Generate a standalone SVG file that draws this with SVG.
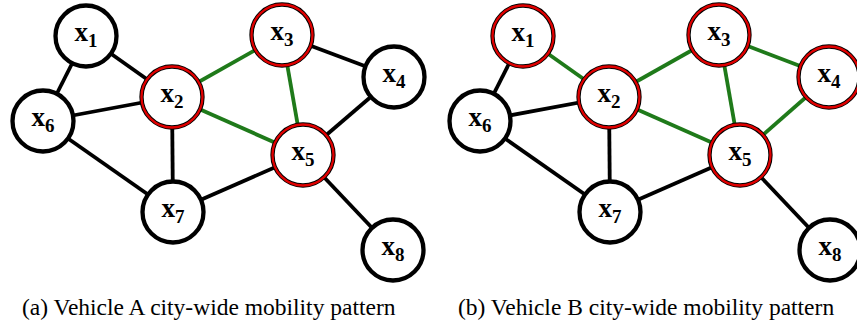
<svg xmlns="http://www.w3.org/2000/svg" width="857" height="329" viewBox="0 0 857 329">
<style>
.n{fill:#fff;stroke:#000;stroke-width:4.3}
.r{fill:none;stroke:#e00000;stroke-width:2.3}
.e{stroke:#000;stroke-width:3.8;fill:none}
.g{stroke:#1f7a1a;stroke-width:3.8;fill:none}
.l{font-family:"Liberation Serif",serif;font-weight:bold;font-size:27px;text-anchor:middle}
.s{font-size:19px}
.c{font-family:"Liberation Serif",serif;font-size:23.5px}
</style>
<rect width="857" height="329" fill="#fff"/>
<g id="panel-a">
<g id="a-edges">
<line class="e" x1="86" y1="36" x2="43" y2="121"/>
<line class="e" x1="86" y1="36" x2="172" y2="97"/>
<line class="e" x1="43" y1="121" x2="172" y2="97"/>
<line class="e" x1="43" y1="121" x2="173" y2="212"/>
<line class="e" x1="172" y1="97" x2="173" y2="212"/>
<line class="e" x1="173" y1="212" x2="303" y2="155"/>
<line class="e" x1="282" y1="35" x2="394" y2="77"/>
<line class="e" x1="394" y1="77" x2="303" y2="155"/>
<line class="e" x1="303" y1="155" x2="393" y2="250"/>
<line class="g" x1="172" y1="97" x2="282" y2="35"/>
<line class="g" x1="172" y1="97" x2="303" y2="155"/>
<line class="g" x1="282" y1="35" x2="303" y2="155"/>
</g>
<g id="a-x1"><circle class="n" cx="86" cy="36" r="30.5"/><text class="l" x="86" y="41">x<tspan class="s" dy="6">1</tspan></text></g>
<g id="a-x2"><circle class="n" cx="172" cy="97" r="30.5"/><circle class="r" cx="172" cy="97" r="30.5"/><text class="l" x="172" y="102">x<tspan class="s" dy="6">2</tspan></text></g>
<g id="a-x3"><circle class="n" cx="282" cy="35" r="30.5"/><circle class="r" cx="282" cy="35" r="30.5"/><text class="l" x="282" y="40">x<tspan class="s" dy="6">3</tspan></text></g>
<g id="a-x4"><circle class="n" cx="394" cy="77" r="30.5"/><text class="l" x="394" y="82">x<tspan class="s" dy="6">4</tspan></text></g>
<g id="a-x5"><circle class="n" cx="303" cy="155" r="30.5"/><circle class="r" cx="303" cy="155" r="30.5"/><text class="l" x="303" y="160">x<tspan class="s" dy="6">5</tspan></text></g>
<g id="a-x6"><circle class="n" cx="43" cy="121" r="30.5"/><text class="l" x="43" y="126">x<tspan class="s" dy="6">6</tspan></text></g>
<g id="a-x7"><circle class="n" cx="173" cy="212" r="30.5"/><text class="l" x="173" y="217">x<tspan class="s" dy="6">7</tspan></text></g>
<g id="a-x8"><circle class="n" cx="393" cy="250" r="30.5"/><text class="l" x="393" y="255">x<tspan class="s" dy="6">8</tspan></text></g>
</g>
<g id="panel-b" transform="translate(437,0)">
<g id="b-edges">
<line class="e" x1="86" y1="36" x2="43" y2="121"/>
<line class="e" x1="43" y1="121" x2="172" y2="97"/>
<line class="e" x1="43" y1="121" x2="173" y2="212"/>
<line class="e" x1="172" y1="97" x2="173" y2="212"/>
<line class="e" x1="173" y1="212" x2="303" y2="155"/>
<line class="e" x1="303" y1="155" x2="393" y2="250"/>
<line class="g" x1="86" y1="36" x2="172" y2="97"/>
<line class="g" x1="172" y1="97" x2="282" y2="35"/>
<line class="g" x1="172" y1="97" x2="303" y2="155"/>
<line class="g" x1="282" y1="35" x2="303" y2="155"/>
<line class="g" x1="282" y1="35" x2="392" y2="77"/>
<line class="g" x1="392" y1="77" x2="303" y2="155"/>
</g>
<g id="b-x1"><circle class="n" cx="86" cy="36" r="30.5"/><circle class="r" cx="86" cy="36" r="30.5"/><text class="l" x="86" y="41">x<tspan class="s" dy="6">1</tspan></text></g>
<g id="b-x2"><circle class="n" cx="172" cy="97" r="30.5"/><circle class="r" cx="172" cy="97" r="30.5"/><text class="l" x="172" y="102">x<tspan class="s" dy="6">2</tspan></text></g>
<g id="b-x3"><circle class="n" cx="282" cy="35" r="30.5"/><circle class="r" cx="282" cy="35" r="30.5"/><text class="l" x="282" y="40">x<tspan class="s" dy="6">3</tspan></text></g>
<g id="b-x4"><circle class="n" cx="392" cy="77" r="30.5"/><circle class="r" cx="392" cy="77" r="30.5"/><text class="l" x="392" y="82">x<tspan class="s" dy="6">4</tspan></text></g>
<g id="b-x5"><circle class="n" cx="303" cy="155" r="30.5"/><circle class="r" cx="303" cy="155" r="30.5"/><text class="l" x="303" y="160">x<tspan class="s" dy="6">5</tspan></text></g>
<g id="b-x6"><circle class="n" cx="43" cy="121" r="30.5"/><text class="l" x="43" y="126">x<tspan class="s" dy="6">6</tspan></text></g>
<g id="b-x7"><circle class="n" cx="173" cy="212" r="30.5"/><text class="l" x="173" y="217">x<tspan class="s" dy="6">7</tspan></text></g>
<g id="b-x8"><circle class="n" cx="393" cy="250" r="30.5"/><text class="l" x="393" y="255">x<tspan class="s" dy="6">8</tspan></text></g>
</g>
<g id="captions">
<text class="c" x="22" y="315">(a) Vehicle A city-wide mobility pattern</text>
<text class="c" x="458" y="315">(b) Vehicle B city-wide mobility pattern</text>
</g>
</svg>
